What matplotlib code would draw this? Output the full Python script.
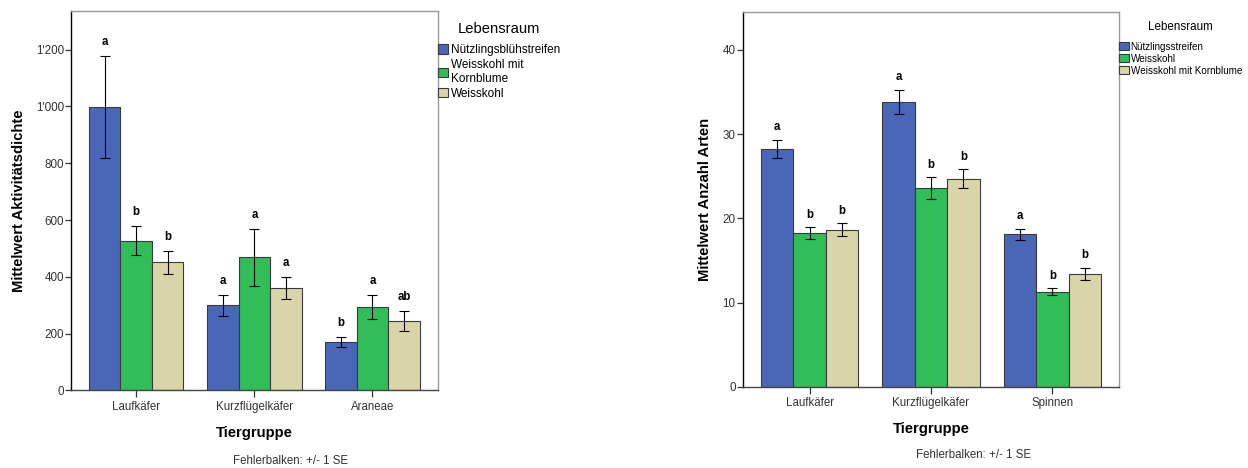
import numpy as np
import matplotlib
matplotlib.use("Agg")
import matplotlib.pyplot as plt
from matplotlib.ticker import FuncFormatter, MultipleLocator

plt.rcParams['font.family'] = ['Liberation Sans', 'DejaVu Sans']

# --- data, left panel (Aktivitätsdichte) ---
groups_left = ["Laufkäfer", "Kurzflügelkäfer", "Araneae"]
series_left = ["Nützlingsblühstreifen", "Weisskohl mit\nKornblume", "Weisskohl"]
means_left = [
    [998, 300, 170],   # Nützlingsblühstreifen
    [528, 469, 294],   # Weisskohl mit Kornblume
    [451, 361, 245],   # Weisskohl
]
se_left = [
    [181, 37, 18],
    [50, 100, 41],
    [40, 40, 35],
]
letters_left = [
    ["a", "a", "b"],
    ["b", "a", "a"],
    ["b", "a", "ab"],
]

# --- data, right panel (Anzahl Arten) ---
groups_right = ["Laufkäfer", "Kurzflügelkäfer", "Spinnen"]
series_right = ["Nützlingsstreifen", "Weisskohl", "Weisskohl mit Kornblume"]
means_right = [
    [28.25, 33.87, 18.12],
    [18.24, 23.62, 11.28],
    [18.67, 24.73, 13.41],
]
se_right = [
    [1.07, 1.42, 0.65],
    [0.69, 1.25, 0.42],
    [0.79, 1.09, 0.75],
]
letters_right = [
    ["a", "a", "a"],
    ["b", "b", "b"],
    ["b", "b", "b"],
]

colors = ["#4a67b7", "#31bd58", "#dad5a8"]
TICK_COLOR = "#333333"


def draw_panel(ax, groups, series, means, ses, letters, ylim, ylabel,
               letter_off, ylabel_x, xlabel_y, fmt=None):
    x = np.arange(len(groups))
    width = 0.8 / len(series)
    handles = []
    for i, name in enumerate(series):
        pos = x + (i - 1) * width
        b = ax.bar(pos, means[i], width, color=colors[i], edgecolor="#3a3a3a",
                   linewidth=0.8, label=name, zorder=2)
        handles.append(b)
        ax.errorbar(pos, means[i], yerr=ses[i], fmt="none", ecolor="black",
                    elinewidth=0.8, capsize=3.4, capthick=0.8, zorder=3)
        for p, m, s, t in zip(pos, means[i], ses[i], letters[i]):
            ax.annotate(t, (p, m + s), xytext=(0, letter_off),
                        textcoords="offset points", ha="center", va="center",
                        fontsize=8.3, fontweight="bold")

    ax.set_xlim(-0.552, len(groups) - 1 + 0.552)
    ax.set_ylim(*ylim)
    ax.set_xticks(x)
    ax.set_xticklabels(groups, fontsize=8.3, color=TICK_COLOR)
    ax.tick_params(axis="x", length=5, width=0.9, pad=2.5, color="#333333")
    ax.tick_params(axis="y", length=4.5, width=0.9, pad=0.6, labelsize=8.4,
                   labelcolor=TICK_COLOR, color="#333333")
    if fmt is not None:
        ax.yaxis.set_major_formatter(FuncFormatter(fmt))

    ax.set_xlabel("Tiergruppe", fontsize=10.7, fontweight="bold")
    ax.set_ylabel(ylabel, fontsize=10.7, fontweight="bold")
    ax.xaxis.set_label_coords(0.5, xlabel_y)
    ax.yaxis.set_label_coords(ylabel_x, 0.5)

    ax.spines["left"].set_color("black")
    ax.spines["bottom"].set_color("#444444")
    ax.spines["top"].set_color("#9a9a9a")
    ax.spines["right"].set_color("#9a9a9a")
    for sp in ax.spines.values():
        sp.set_linewidth(1.0)
    return handles


fig = plt.figure(figsize=(12.48, 4.68), dpi=100)

ax1 = fig.add_axes([0.0569, 0.1656, 0.2938, 0.8109])
h1 = draw_panel(ax1, groups_left, series_left, means_left, se_left, letters_left,
                (0, 1336), "Mittelwert Aktivitätsdichte", 10.0, -0.123, -0.094,
                fmt=lambda v, _: f"{int(v):,}".replace(",", "'"))
ax1.yaxis.set_major_locator(MultipleLocator(200))
leg1 = ax1.legend(handles=h1, title="Lebensraum", loc="upper left",
                  bbox_to_anchor=(1.0, 0.972), frameon=False, fontsize=8.5,
                  title_fontsize=10.6, borderpad=0, borderaxespad=0,
                  handlelength=0.85, handleheight=0.85, handletextpad=0.3,
                  labelspacing=0.25)
leg1._legend_box.sep = 6

ax2 = fig.add_axes([0.5951, 0.1731, 0.3018, 0.8006])
h2 = draw_panel(ax2, groups_right, series_right, means_right, se_right, letters_right,
                (0, 44.47), "Mittelwert Anzahl Arten", 9.0, -0.082, -0.093)
ax2.yaxis.set_major_locator(MultipleLocator(10))
leg2 = ax2.legend(handles=h2, title="Lebensraum", loc="upper left",
                  bbox_to_anchor=(1.0, 0.976), frameon=False, fontsize=7.1,
                  title_fontsize=8.4, borderpad=0, borderaxespad=0,
                  handlelength=0.95, handleheight=0.95, handletextpad=0.2,
                  labelspacing=0.2)
leg2._legend_box.sep = 6

fig.text(290.7 / 1248, 1 - 460.7 / 468, "Fehlerbalken: +/- 1 SE", ha="center",
         va="center", fontsize=8.3, color="#333333")
fig.text(974 / 1248, 1 - 455 / 468, "Fehlerbalken: +/- 1 SE", ha="center",
         va="center", fontsize=8.3, color="#333333")

fig.savefig("out.png", dpi=100)
